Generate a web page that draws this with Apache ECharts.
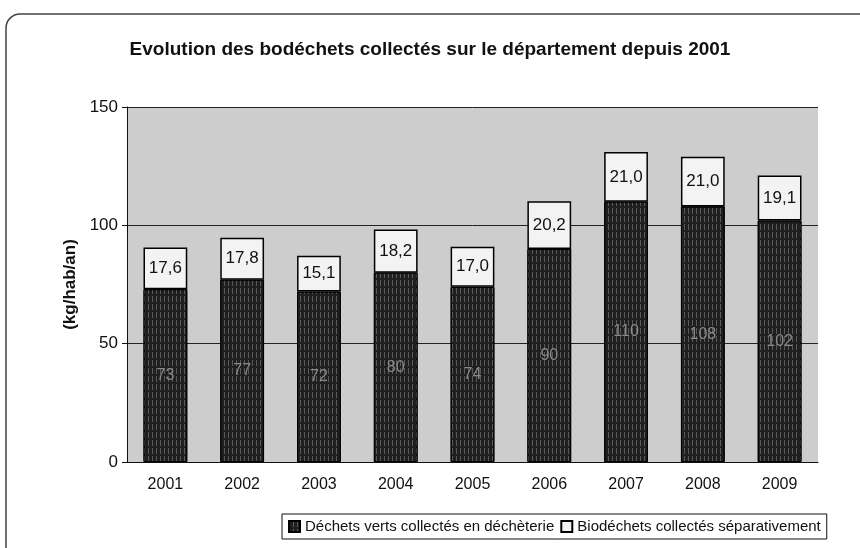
<!DOCTYPE html>
<html>
<head>
<meta charset="utf-8">
<script src="https://cdn.jsdelivr.net/npm/echarts@6/dist/echarts.min.js"></script>
<style>
  html, body { margin: 0; padding: 0; background: #fff; }
  #main { width: 860px; height: 548px; }
</style>
</head>
<body>
<div id="main"></div>
<script>
// données
const annees = ['2001', '2002', '2003', '2004', '2005', '2006', '2007', '2008', '2009'];
const dechetsVerts = [73, 77, 72, 80, 74, 90, 110, 108, 102];
const biodechets = [17.6, 17.8, 15.1, 18.2, 17.0, 20.2, 21.0, 21.0, 19.1];
const yTicks = [0, 50, 100, 150];

const chart = echarts.init(document.getElementById('main'));

const fmtVirgule = (v) => v.toFixed(1).replace('.', ',');

chart.setOption({
  animation: false,
  backgroundColor: '#fff',
  textStyle: { fontFamily: 'Liberation Sans, Arial, sans-serif' },
  title: {
    text: 'Evolution des bodéchets collectés sur le département depuis 2001',
    left: 'center',
    top: 35,
    textStyle: { fontSize: 19, fontWeight: 'bold', color: '#111' }
  },
  graphic: [{
    type: 'rect',
    shape: { x: 6, y: 14, width: 880, height: 560, r: 14 },
    style: { fill: 'none', stroke: '#444', lineWidth: 1.5 },
    silent: true
  }],
  grid: {
    left: 127, right: 42, top: 107, bottom: 86,
    show: true, backgroundColor: '#cdcdcd', borderWidth: 0
  },
  legend: {
    left: 282, top: 514,
    itemWidth: 11, itemHeight: 11, itemGap: 6,
    padding: [5, 6, 5, 6],
    borderColor: '#111', borderWidth: 1,
    textStyle: { fontSize: 15, color: '#111' },
    data: [
      { name: 'Déchets verts collectés en déchèterie', icon: 'rect' },
      { name: 'Biodéchets collectés séparativement', icon: 'rect' }
    ]
  },
  xAxis: {
    type: 'category',
    data: annees,
    axisLine: { lineStyle: { color: '#111' } },
    axisTick: { lineStyle: { color: '#111' }, length: 5 },
    axisLabel: { fontSize: 16, color: '#111', margin: 15 }
  },
  yAxis: {
    type: 'value',
    min: yTicks[0], max: yTicks[yTicks.length - 1], interval: 50,
    name: '(kg/hab/an)',
    nameLocation: 'middle',
    nameGap: 44,
    nameTextStyle: { fontSize: 17, fontWeight: 'bold', color: '#111' },
    axisLine: { show: true, lineStyle: { color: '#111' } },
    axisTick: { show: true, inside: false, length: 5, lineStyle: { color: '#111' } },
    axisLabel: { fontSize: 17, color: '#111', margin: 9 },
    splitLine: { lineStyle: { color: '#222', width: 1 } }
  },
  series: [
    {
      name: 'Déchets verts collectés en déchèterie',
      type: 'bar',
      stack: 'total',
      barWidth: '57%',
      data: dechetsVerts,
      itemStyle: {
        color: '#1f1f1f', borderColor: '#000', borderWidth: 1,
        decal: {
          symbol: 'rect', symbolSize: 1, color: 'rgba(200,200,200,0.35)',
          dashArrayX: [1, 3], dashArrayY: [6, 2], rotation: 0
        }
      },
      label: { show: true, position: 'inside', color: '#8a8a8a', fontSize: 16 }
    },
    {
      name: 'Biodéchets collectés séparativement',
      type: 'bar',
      stack: 'total',
      barWidth: '57%',
      data: biodechets,
      itemStyle: { color: '#f3f3f3', borderColor: '#000', borderWidth: 1.5 },
      label: {
        show: true, position: 'inside', color: '#111', fontSize: 17,
        formatter: (p) => fmtVirgule(p.value)
      }
    }
  ]
});
</script>
</body>
</html>
